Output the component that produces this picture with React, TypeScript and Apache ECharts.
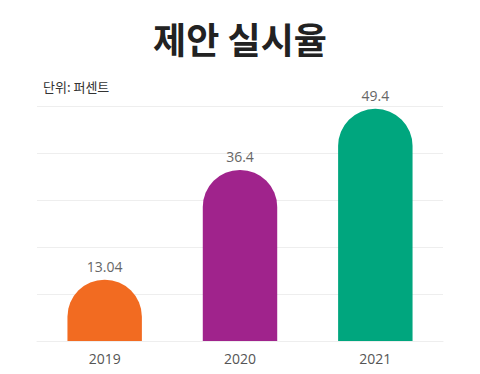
import React, { useEffect, useRef } from "react";
import * as echarts from "echarts";

const categories = ["2019", "2020", "2021"];
const values = [13.04, 36.4, 49.4];
const colors = ["#F26B21", "#A0238C", "#00A67E"];
const titleText = "제안 실시율";
const unitText = "단위: 퍼센트";

export default function App() {
  const ref = useRef<HTMLDivElement>(null);
  useEffect(() => {
    if (!ref.current) return;
    const chart = echarts.init(ref.current, null, { renderer: "svg" });
    chart.setOption({
      animation: false,
      backgroundColor: "#ffffff",
      title: {
        text: titleText,
        left: "center",
        top: 15,
        textStyle: {
          fontFamily: "Noto Sans CJK KR",
          fontSize: 36,
          fontWeight: "bold",
          color: "#222222",
        },
      },
      graphic: [
        {
          type: "text",
          left: 43,
          top: 80,
          style: {
            text: unitText,
            fontFamily: "Noto Sans CJK KR",
            fontSize: 13,
            fill: "#333333",
          },
        },
      ],
      grid: { left: 37, right: 37, top: 106, bottom: 33 },
      xAxis: {
        type: "category",
        data: categories,
        axisLine: { show: true, lineStyle: { color: "#eeeeee" } },
        axisTick: { show: false },
        axisLabel: {
          color: "#555555",
          fontSize: 14,
          margin: 10,
          fontFamily: "Open Sans",
        },
      },
      yAxis: {
        type: "value",
        min: 0,
        max: 50,
        interval: 10,
        axisLabel: { show: false },
        axisLine: { show: false },
        axisTick: { show: false },
        splitLine: { lineStyle: { color: "#eeeeee" } },
      },
      series: [
        {
          type: "bar",
          barWidth: "55%",
          data: values.map((v, i) => ({
            value: v,
            itemStyle: { color: colors[i], borderRadius: [37, 37, 0, 0] },
          })),
          label: {
            show: true,
            position: "top",
            distance: 6,
            color: "#666666",
            fontSize: 14,
            fontFamily: "Open Sans",
          },
        },
      ],
    });
    return () => chart.dispose();
  }, []);
  return <div ref={ref} style={{ width: 480, height: 374, marginLeft: -8, marginTop: -8 }} />;
}
